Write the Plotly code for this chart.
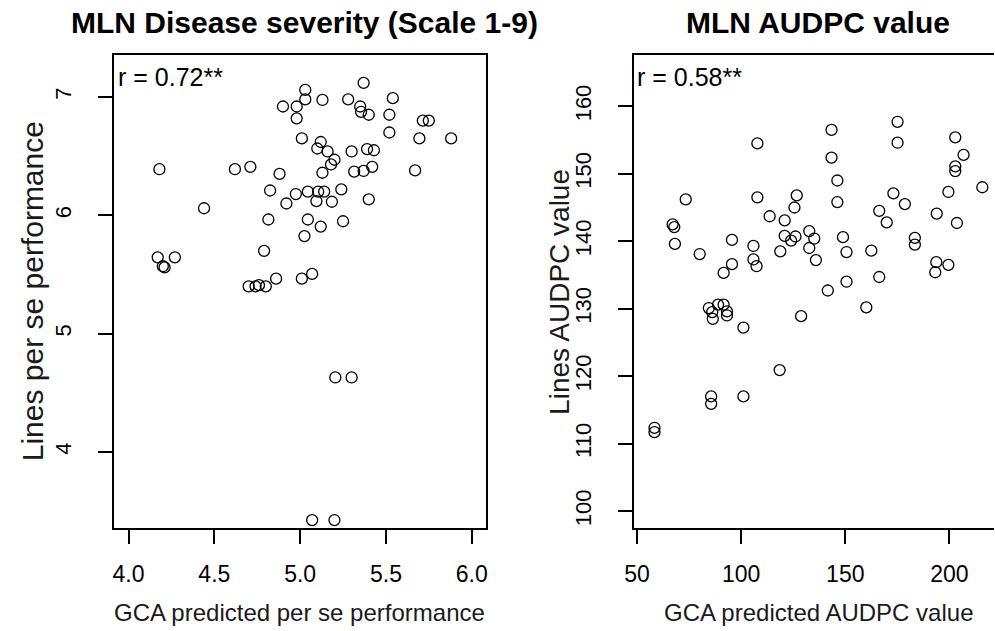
import plotly.graph_objects as go

# ---- Left panel: MLN disease severity ----
sev_gca = [4.18, 4.62, 4.71, 4.88, 4.44, 4.90, 4.98, 4.98, 5.03, 5.03, 5.13, 5.28, 5.37, 5.35,
           5.355, 5.40, 5.54, 5.52, 5.52, 5.715, 5.75, 5.695, 5.88, 5.67, 5.01, 5.12, 5.10, 5.16,
           5.30, 5.39, 5.43, 5.20, 5.18, 5.13, 5.315, 5.37, 5.42, 4.825, 4.975, 5.045, 5.105, 5.14,
           5.24, 4.92, 5.095, 5.185, 5.40, 4.815, 5.045, 5.12, 5.25, 5.025, 4.79, 4.17, 4.27, 4.20,
           4.21, 4.70, 4.74, 4.76, 4.80, 4.86, 5.01, 5.07, 5.205, 5.30, 5.07, 5.20]
sev_lines = [6.39, 6.39, 6.41, 6.35, 6.06, 6.92, 6.92, 6.82, 7.06, 6.98, 6.975, 6.98, 7.12, 6.92,
             6.875, 6.85, 6.99, 6.85, 6.70, 6.80, 6.80, 6.65, 6.65, 6.38, 6.65, 6.62, 6.565, 6.54,
             6.54, 6.56, 6.55, 6.47, 6.43, 6.36, 6.37, 6.375, 6.41, 6.21, 6.18, 6.20, 6.20, 6.20,
             6.22, 6.10, 6.12, 6.115, 6.135, 5.965, 5.965, 5.905, 5.95, 5.825, 5.70, 5.645, 5.645, 5.57,
             5.56, 5.40, 5.40, 5.41, 5.40, 5.465, 5.465, 5.505, 4.63, 4.63, 3.425, 3.425]

# ---- Right panel: MLN AUDPC ----
aud_gca = [67.1, 67.9, 68.2, 73.4, 80.1, 95.6, 95.6, 91.6, 107.8, 107.8, 105.9, 105.9, 107.4, 113.7,
           120.9, 126.7, 125.6, 120.9, 124.0, 126.1, 118.8, 132.7, 135.1, 132.7, 135.9, 143.4, 143.4,
           146.2, 146.2, 148.9, 150.6, 150.6, 141.6, 162.5, 166.3, 169.9, 166.3, 175.1, 175.1, 173.1,
           178.6, 183.4, 183.4, 193.9, 193.7, 193.2, 199.5, 199.5, 202.8, 202.8, 202.8, 206.8, 203.6,
           215.8, 84.5, 88.9, 91.6, 86.1, 86.4, 93.2, 93.2, 101.1, 128.8, 160.1, 118.5, 85.6, 85.6,
           101.1, 58.4, 58.4]
aud_lines = [142.5, 142.1, 139.6, 146.2, 138.1, 140.2, 136.6, 135.3, 154.5, 146.5, 139.3, 137.3, 136.3,
             143.7, 143.1, 146.8, 145.0, 140.8, 140.1, 140.7, 138.5, 141.5, 140.4, 139.0, 137.2, 156.5,
             152.4, 149.0, 145.8, 140.6, 138.4, 134.0, 132.7, 138.6, 144.5, 142.8, 134.7, 157.7, 154.6,
             147.1, 145.5, 140.5, 139.5, 144.1, 136.9, 135.4, 136.5, 147.3, 155.4, 151.1, 150.4, 152.8,
             142.7, 148.0, 130.1, 130.6, 130.6, 129.5, 128.5, 129.6, 129.0, 127.2, 128.9, 130.2, 120.9,
             117.0, 115.9, 117.0, 112.35, 111.7]

sev_xticks = [4.0, 4.5, 5.0, 5.5, 6.0]
sev_xticktext = ["4.0", "4.5", "5.0", "5.5", "6.0"]
sev_yticks = [4, 5, 6, 7]
aud_xticks = [50, 100, 150, 200]
aud_yticks = [100, 110, 120, 130, 140, 150, 160]

titles = ["MLN Disease severity (Scale 1-9)", "MLN AUDPC value"]
xlabels = ["GCA predicted per se performance", "GCA predicted AUDPC value"]
ylabels = ["Lines per se performance", "Lines AUDPC value"]
rlabels = ["r = 0.72**", "r = 0.58**"]

W, H = 995, 631
FONT = "Liberation Sans, Arial, sans-serif"

fig = go.Figure()
marker = dict(symbol="circle-open", size=11, color="black", line=dict(width=1.3, color="black"))
fig.add_trace(go.Scatter(x=sev_gca, y=sev_lines, mode="markers", marker=marker,
                         xaxis="x", yaxis="y", showlegend=False))
fig.add_trace(go.Scatter(x=aud_gca, y=aud_lines, mode="markers", marker=marker,
                         xaxis="x2", yaxis="y2", showlegend=False))

# pixel geometry
L1, R1 = 106, 482
L2, R2 = 631, 995
T, B = 55, 528

def px(x):
    return x / W

def py(y):
    return 1 - y / H

axis_common = dict(showgrid=False, zeroline=False, showline=True, linecolor="black", linewidth=2,
                   ticks="outside", ticklen=14, tickwidth=1.5, tickcolor="black",
                   tickfont=dict(family=FONT, size=23, color="black"))
ytick_common = {**axis_common, "tickfont": dict(family=FONT, size=22, color="black")}

fig.update_layout(
    width=W, height=H,
    margin=dict(l=0, r=0, t=0, b=0),
    paper_bgcolor="white", plot_bgcolor="white",
    font=dict(family=FONT, color="black"),
    xaxis=dict(domain=[px(L1), px(R1)], range=[3.915, 6.084], tickvals=sev_xticks,
               ticktext=sev_xticktext, mirror=True, anchor="y", ticklabelstandoff=10, **axis_common),
    yaxis=dict(domain=[py(B), py(T)], range=[3.358, 7.355], tickvals=sev_yticks,
               tickangle=-90, mirror=True, anchor="x", ticklabelstandoff=18, **ytick_common),
    xaxis2=dict(domain=[px(L2), px(R2)], range=[48.4, 221.4], tickvals=aud_xticks,
                mirror=True, anchor="y2", ticklabelstandoff=10, **axis_common),
    yaxis2=dict(domain=[py(B), py(T)], range=[97.5, 167.6], tickvals=aud_yticks,
                tickangle=-90, mirror=False, anchor="x2", ticklabelstandoff=18, **ytick_common),
)

ann = []
# titles
for cx, t in zip([298, 817], titles):
    ann.append(dict(x=px(cx), y=py(23), xref="paper", yref="paper", text="<b>%s</b>" % t,
                    showarrow=False, xanchor="center", yanchor="middle",
                    font=dict(family=FONT, size=30, color="black")))
# x labels
for cx, t in zip([293, 818], xlabels):
    ann.append(dict(x=px(cx), y=py(612), xref="paper", yref="paper", text=t,
                    showarrow=False, xanchor="center", yanchor="middle",
                    font=dict(family=FONT, size=24, color="#1a1a1a")))
# y labels
for cx, fs, t in zip([24, 556], [30, 28], ylabels):
    ann.append(dict(x=px(cx), y=py((T + B) / 2), xref="paper", yref="paper", text=t,
                    textangle=-90, showarrow=False, xanchor="center", yanchor="middle",
                    font=dict(family=FONT, size=fs, color="#1a1a1a")))
# correlation labels
for lx, t in zip([108, 632], rlabels):
    ann.append(dict(x=px(lx), y=py(77), xref="paper", yref="paper", text=t,
                    showarrow=False, xanchor="left", yanchor="middle",
                    font=dict(family=FONT, size=25, color="black")))
fig.update_layout(annotations=ann)

fig.write_html("out.html")
